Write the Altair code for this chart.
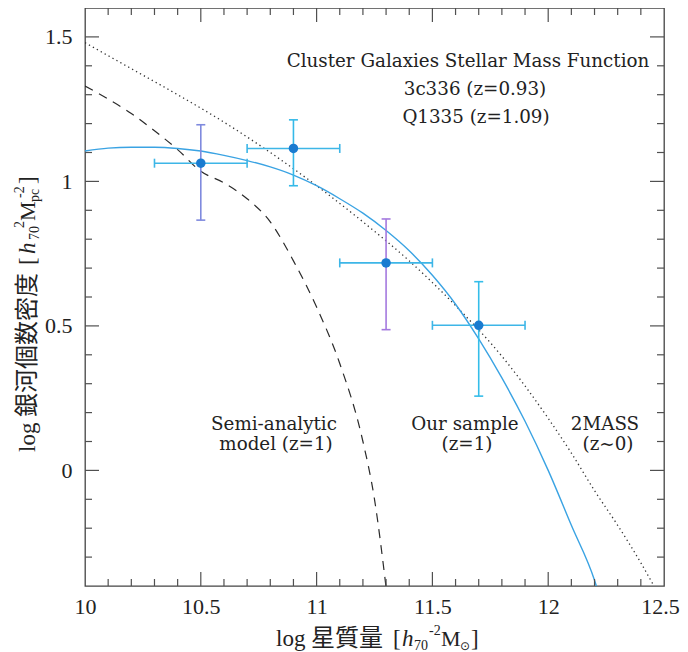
import altair as alt
import pandas as pd

# ---------------- data ----------------
# 2MASS (z~0) mass function, dotted
mass_2mass = [10.0, 10.2, 10.4, 10.6, 10.8, 11.0, 11.2, 11.4, 11.6, 11.8, 12.0, 12.1, 12.2, 12.3, 12.4, 12.46]
phi_2mass = [1.48, 1.39, 1.30, 1.205, 1.10, 0.985, 0.86, 0.725, 0.57, 0.395, 0.18, 0.06, -0.07, -0.19, -0.32, -0.405]

# Semi-analytic model (z=1), dashed
mass_sam = [10.0, 10.1, 10.2, 10.3, 10.4, 10.5, 10.6, 10.7, 10.8, 10.9, 11.0, 11.1, 11.2, 11.25, 11.3]
phi_sam = [1.33, 1.285, 1.235, 1.175, 1.11, 1.035, 0.995, 0.94, 0.86, 0.725, 0.565, 0.37, 0.10, -0.10, -0.405]

# Fit to our sample (z=1), solid blue
mass_fit = [10.0, 10.1, 10.2, 10.3, 10.4, 10.5, 10.6, 10.7, 10.8, 10.9, 11.0, 11.1, 11.2,
            11.3, 11.4, 11.5, 11.6, 11.7, 11.8, 11.9, 12.0, 12.1, 12.2, 12.21]
phi_fit = [1.105, 1.115, 1.118, 1.118, 1.114, 1.105, 1.09, 1.072, 1.05, 1.022, 0.985, 0.94, 0.89,
           0.83, 0.76, 0.675, 0.575, 0.455, 0.32, 0.17, 0.0, -0.19, -0.38, -0.405]

# Measured points with error bars
pt_mass = [10.5, 10.9, 11.3, 11.7]
pt_phi = [1.063, 1.114, 0.718, 0.502]
pt_mass_lo = [10.30, 10.70, 11.10, 11.50]
pt_mass_hi = [10.70, 11.10, 11.50, 11.90]
pt_phi_lo = [0.866, 0.985, 0.487, 0.257]
pt_phi_hi = [1.196, 1.213, 0.870, 0.653]
pt_vcolor = ["#7f8ade", "#35b9e8", "#a479df", "#35bde9"]

# Tick positions
x_labels = [10, 10.5, 11, 11.5, 12, 12.5]
y_labels = [0, 0.5, 1, 1.5]
x_major = [10.5, 11, 11.5, 12]
x_minor = [10.1, 10.2, 10.3, 10.4, 10.6, 10.7, 10.8, 10.9, 11.1, 11.2, 11.3, 11.4,
           11.6, 11.7, 11.8, 11.9, 12.1, 12.2, 12.3, 12.4]
y_major = [0, 0.5, 1, 1.5]
y_minor = [-0.3, -0.2, -0.1, 0.1, 0.2, 0.3, 0.4, 0.6, 0.7, 0.8, 0.9, 1.1, 1.2, 1.3, 1.4]

# ---------------- chart ----------------
W, H = 579, 578
SERIF = "Liberation Serif"
ANN = "DejaVu Serif"
CJK = "Noto Sans CJK JP"
TXT = "#222222"
TICK = "#505050"

x_scale = alt.Scale(domain=[10, 12.5], nice=False, zero=False)
y_scale = alt.Scale(domain=[-0.4, 1.6], nice=False, zero=False)
x_axis = alt.Axis(values=x_labels, format="~g", ticks=False, tickSize=0, domain=False, grid=False,
                  labelFont=SERIF, labelFontSize=22, labelColor=TXT, labelPadding=10,
                  labelOffset={"condition": {"test": "datum.value == 12.5", "value": -4}, "value": 0},
                  labelFlush=False, labelOverlap=False, title=None)
y_axis = alt.Axis(values=y_labels, format="~g", ticks=False, tickSize=0, domain=False, grid=False,
                  labelFont=SERIF, labelFontSize=22, labelColor=TXT, labelPadding=13,
                  labelFlush=False, labelOverlap=False, title=None)


def X(f):
    return alt.X(f, type="quantitative", scale=x_scale, axis=x_axis)


def Y(f):
    return alt.Y(f, type="quantitative", scale=y_scale, axis=y_axis)


d2mass = pd.DataFrame({"m": mass_2mass, "phi": phi_2mass})
dsam = pd.DataFrame({"m": mass_sam, "phi": phi_sam})
dfit = pd.DataFrame({"m": mass_fit, "phi": phi_fit})
pts = pd.DataFrame({"m": pt_mass, "phi": pt_phi, "mlo": pt_mass_lo, "mhi": pt_mass_hi,
                    "plo": pt_phi_lo, "phh": pt_phi_hi, "vc": pt_vcolor})

line_2mass = alt.Chart(d2mass).mark_line(color="#333333", strokeWidth=1.3, strokeDash=[1.3, 3.2],
                                         interpolate="monotone", clip=True).encode(x=X("m"), y=Y("phi"))
line_sam = alt.Chart(dsam).mark_line(color="#2a2a2a", strokeWidth=1.2, strokeDash=[9, 7],
                                     interpolate="monotone", clip=True).encode(x=X("m"), y=Y("phi"))
line_fit = alt.Chart(dfit).mark_line(color="#3aa3e3", strokeWidth=1.4,
                                     interpolate="monotone", clip=True).encode(x=X("m"), y=Y("phi"))

EB = "#3db6e7"
hbar = alt.Chart(pts).mark_rule(color=EB, strokeWidth=1.6).encode(x=X("mlo"), x2="mhi", y=Y("phi"))
hcap_lo = alt.Chart(pts).mark_tick(orient="vertical", size=9, thickness=1.6, color=EB, opacity=1).encode(x=X("mlo"), y=Y("phi"))
hcap_hi = alt.Chart(pts).mark_tick(orient="vertical", size=9, thickness=1.6, color=EB, opacity=1).encode(x=X("mhi"), y=Y("phi"))
vbar = alt.Chart(pts).mark_rule(strokeWidth=1.6).encode(x=X("m"), y=Y("plo"), y2="phh",
                                                       color=alt.Color("vc:N", scale=None))
vcap_lo = alt.Chart(pts).mark_tick(orient="horizontal", size=9, thickness=1.6, opacity=1).encode(
    x=X("m"), y=Y("plo"), color=alt.Color("vc:N", scale=None))
vcap_hi = alt.Chart(pts).mark_tick(orient="horizontal", size=9, thickness=1.6, opacity=1).encode(
    x=X("m"), y=Y("phh"), color=alt.Color("vc:N", scale=None))
dots = alt.Chart(pts).mark_circle(size=90, color="#1a7bd0", opacity=1).encode(x=X("m"), y=Y("phi"))

# inward frame ticks
dxM = pd.DataFrame({"t": x_major})
dxm = pd.DataFrame({"t": x_minor})
dyM = pd.DataFrame({"t": y_major})
dym = pd.DataFrame({"t": y_minor})


def xticks(df, ln):
    b = alt.Chart(df).mark_rule(color=TICK, strokeWidth=1.2).encode(x=X("t"), y=alt.value(H), y2=alt.value(H - ln))
    t = alt.Chart(df).mark_rule(color=TICK, strokeWidth=1.2).encode(x=X("t"), y=alt.value(0), y2=alt.value(ln))
    return [b, t]


def yticks(df, ln):
    l = alt.Chart(df).mark_rule(color=TICK, strokeWidth=1.2).encode(y=Y("t"), x=alt.value(0), x2=alt.value(ln))
    r = alt.Chart(df).mark_rule(color=TICK, strokeWidth=1.2).encode(y=Y("t"), x=alt.value(W), x2=alt.value(W - ln))
    return [l, r]


one = alt.Data(values=[{"a": 1}])


def txt(s, x, y, size, font=SERIF, style="normal", align="left", angle=0):
    return alt.Chart(one).mark_text(text=s, font=font, fontSize=size, fontStyle=style, align=align,
                                    baseline="alphabetic", angle=angle, color=TXT).encode(
        x=alt.value(x), y=alt.value(y))


ann = [
    txt("Cluster Galaxies Stellar Mass Function", 383, 59, 18.3, ANN, align="center"),
    txt("3c336 (z=0.93)", 390, 87, 18.3, ANN, align="center"),
    txt("Q1335 (z=1.09)", 391, 115, 18.3, ANN, align="center"),
    txt("Semi-analytic", 189, 422, 18.3, ANN, align="center"),
    txt("model (z=1)", 191, 442, 18.3, ANN, align="center"),
    txt("Our sample", 380, 422, 18.3, ANN, align="center"),
    txt("(z=1)", 382, 442, 18.3, ANN, align="center"),
    txt("2MASS", 520, 422, 18.3, ANN, align="center"),
    txt("(z~0)", 523, 442, 18.3, ANN, align="center"),
]

# x-axis title: log 星質量 [h70^-2 M⊙]
xb = 638
xtitle = [
    txt("log", 191, xb, 23),
    txt("星質量", 226, xb, 24, CJK),
    txt("[", 308, xb, 23),
    txt("h", 317, xb, 23, style="italic"),
    txt("70", 329, xb + 4, 14),
    txt("-2", 344, xb - 11, 14),
    txt("M", 356, xb, 22),
    txt("⊙", 375, xb + 4, 12, "DejaVu Sans"),
    txt("]", 386, xb, 23),
]

# y-axis title (rotated): log 銀河個数密度 [h70^2 Mpc^-2]
yb = -50
ytitle = [
    txt("log", yb, 444, 23, angle=270),
    txt("銀河個数密度", yb, 409, 24, CJK, angle=270),
    txt("[", yb, 257, 23, angle=270),
    txt("h", yb, 246, 23, style="italic", angle=270),
    txt("70", yb + 4, 232, 14, angle=270),
    txt("2", yb - 11, 220, 14, angle=270),
    txt("M", yb, 213, 22, angle=270),
    txt("pc", yb + 4, 194, 14, angle=270),
    txt("-2", yb - 11, 190, 14, angle=270),
    txt("]", yb, 176, 23, angle=270),
]

layers = ([line_2mass, line_sam, line_fit, hbar, hcap_lo, hcap_hi, vbar, vcap_lo, vcap_hi, dots]
          + xticks(dxM, 14) + xticks(dxm, 7) + yticks(dyM, 14) + yticks(dym, 7)
          + ann + xtitle + ytitle)

chart = alt.layer(*layers).properties(
    width=W, height=H,
    autosize=alt.AutoSizeParams(type="none"),
    padding={"left": 77, "top": 0, "right": 16, "bottom": 66},
    background="white",
).configure_view(stroke="#444444", strokeWidth=1.3)

chart.save("out.html", embed_options={"renderer": "svg", "actions": False})
